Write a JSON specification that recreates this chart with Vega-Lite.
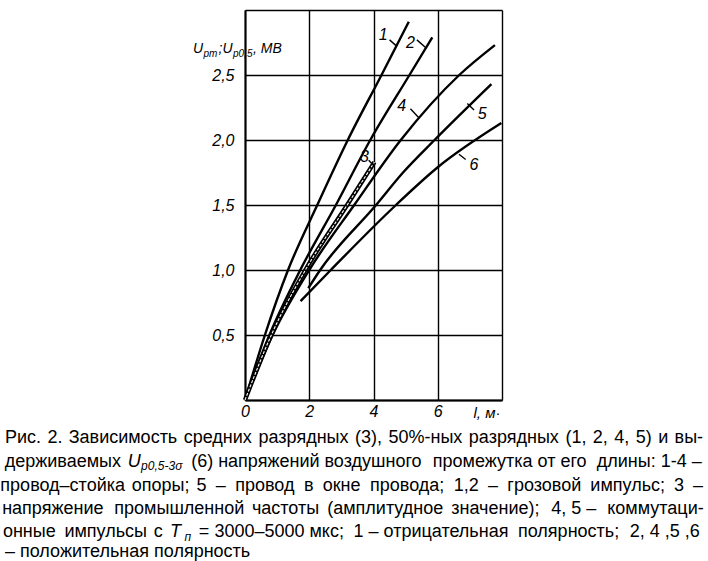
{
  "$schema": "https://vega.github.io/schema/vega-lite/v6.json",
  "width": 257,
  "height": 390,
  "autosize": {"type": "none"},
  "padding": {"left": 245, "top": 10, "right": 206, "bottom": 161},
  "background": "white",
  "config": {"view": {"stroke": null}},
  "datasets": {
    "curves": [
      {"s": "1", "x": 0, "y": 0}, {"s": "1", "x": 0.62, "y": 0.5}, {"s": "1", "x": 1.34, "y": 1.0}, {"s": "1", "x": 2.25, "y": 1.5}, {"s": "1", "x": 3.2, "y": 2.0}, {"s": "1", "x": 4.25, "y": 2.5}, {"s": "1", "x": 5.1, "y": 2.91},
      {"s": "2", "x": 0, "y": 0}, {"s": "2", "x": 0.76, "y": 0.5}, {"s": "2", "x": 1.72, "y": 1.0}, {"s": "2", "x": 2.83, "y": 1.5}, {"s": "2", "x": 3.9, "y": 2.0}, {"s": "2", "x": 5.12, "y": 2.5}, {"s": "2", "x": 5.83, "y": 2.79},
      {"s": "3", "x": 0, "y": 0}, {"s": "3", "x": 0.82, "y": 0.5}, {"s": "3", "x": 1.88, "y": 1.0}, {"s": "3", "x": 3.18, "y": 1.5}, {"s": "3", "x": 4.03, "y": 1.83},
      {"s": "4", "x": 0, "y": 0}, {"s": "4", "x": 0.86, "y": 0.5}, {"s": "4", "x": 2.0, "y": 1.0}, {"s": "4", "x": 3.4, "y": 1.5}, {"s": "4", "x": 4.85, "y": 2.0}, {"s": "4", "x": 6.67, "y": 2.5}, {"s": "4", "x": 7.78, "y": 2.73},
      {"s": "5", "x": 1.97, "y": 0.86}, {"s": "5", "x": 2.34, "y": 1.0}, {"s": "5", "x": 4.08, "y": 1.5}, {"s": "5", "x": 4.92, "y": 1.75}, {"s": "5", "x": 5.9, "y": 2.0}, {"s": "5", "x": 7.67, "y": 2.43},
      {"s": "6", "x": 1.73, "y": 0.76}, {"s": "6", "x": 2.67, "y": 1.0}, {"s": "6", "x": 4.7, "y": 1.5}, {"s": "6", "x": 6.0, "y": 1.79}, {"s": "6", "x": 7.98, "y": 2.13}
    ],
    "labels": [
      {"t": "1", "x": 4.3, "y": 2.81},
      {"t": "2", "x": 5.15, "y": 2.75},
      {"t": "3", "x": 3.72, "y": 1.87},
      {"t": "4", "x": 4.88, "y": 2.26},
      {"t": "5", "x": 7.38, "y": 2.2},
      {"t": "6", "x": 7.13, "y": 1.81}
    ],
    "leaders": [
      {"x": 4.5, "y": 2.77, "x2": 4.73, "y2": 2.72},
      {"x": 5.35, "y": 2.77, "x2": 5.63, "y2": 2.71},
      {"x": 3.85, "y": 1.845, "x2": 4.02, "y2": 1.8},
      {"x": 5.15, "y": 2.24, "x2": 5.42, "y2": 2.17},
      {"x": 6.92, "y": 2.28, "x2": 7.13, "y2": 2.23},
      {"x": 6.66, "y": 1.89, "x2": 6.87, "y2": 1.85}
    ],
    "titleMain": [
      {"t": "U", "x": -1.6187, "y": 2.669},
      {"t": ";U", "x": -0.8249, "y": 2.669},
      {"t": ", МВ", "x": 0.249, "y": 2.669}
    ],
    "titleSub": [
      {"t": "pm", "x": -1.2918, "y": 2.641},
      {"t": "p0,5", "x": -0.3735, "y": 2.641}
    ],
    "capLeft": [
      {"t": "– положительная полярность", "x": -7.4708, "y": -1.2077}
    ],
    "capCenter": [
      {"t": "Рис.", "x": -6.9105, "y": -0.3308},
      {"t": "2.", "x": -5.9156, "y": -0.3308},
      {"t": "Зависимость", "x": -3.7986, "y": -0.3308},
      {"t": "средних", "x": -0.8489, "y": -0.3308},
      {"t": "разрядных", "x": 1.8223, "y": -0.3308},
      {"t": "(3),", "x": 3.8475, "y": -0.3308},
      {"t": "50%-ных", "x": 5.6159, "y": -0.3308},
      {"t": "разрядных", "x": 8.368, "y": -0.3308},
      {"t": "(1,", "x": 10.2998, "y": -0.3308},
      {"t": "2,", "x": 11.0612, "y": -0.3308},
      {"t": "4,", "x": 11.7292, "y": -0.3308},
      {"t": "5)", "x": 12.4128, "y": -0.3308},
      {"t": "и", "x": 13.0186, "y": -0.3308},
      {"t": "вы-", "x": 13.8158, "y": -0.3308},
      {"t": "держиваемых", "x": -5.6685, "y": -0.5154},
      {"t": "(6) напряжений воздушного", "x": 1.9104, "y": -0.5154},
      {"t": "промежутка от его", "x": 8.241, "y": -0.5154},
      {"t": "длины: 1-4 –", "x": 12.5824, "y": -0.5154},
      {"t": "провод–стойка", "x": -5.6749, "y": -0.7},
      {"t": "опоры;", "x": -2.6244, "y": -0.7},
      {"t": "5", "x": -1.3541, "y": -0.7},
      {"t": "–", "x": -0.758, "y": -0.7},
      {"t": "провод", "x": 0.6163, "y": -0.7},
      {"t": "в", "x": 1.9844, "y": -0.7},
      {"t": "окне", "x": 3.007, "y": -0.7},
      {"t": "провода;", "x": 5.0475, "y": -0.7},
      {"t": "1,2", "x": 6.8887, "y": -0.7},
      {"t": "–", "x": 7.7183, "y": -0.7},
      {"t": "грозовой", "x": 9.3167, "y": -0.7},
      {"t": "импульс;", "x": 11.9128, "y": -0.7},
      {"t": "3", "x": 13.5066, "y": -0.7},
      {"t": "–", "x": 14.1027, "y": -0.7},
      {"t": "напряжение", "x": -5.9829, "y": -0.8769},
      {"t": "промышленной", "x": -2.0457, "y": -0.8769},
      {"t": "частоты", "x": 1.2623, "y": -0.8769},
      {"t": "(амплитудное", "x": 4.3651, "y": -0.8769},
      {"t": "значение);", "x": 7.793, "y": -0.8769},
      {"t": "4, 5 –", "x": 10.2307, "y": -0.8769},
      {"t": "коммутаци-", "x": 12.7767, "y": -0.8769},
      {"t": "онные", "x": -6.7144, "y": -1.0538},
      {"t": "импульсы", "x": -4.3353, "y": -1.0538},
      {"t": "с", "x": -2.697, "y": -1.0538},
      {"t": "= 3000–5000 мкс;", "x": 0.8218, "y": -1.0538},
      {"t": "1 – отрицательная", "x": 5.7896, "y": -1.0538},
      {"t": "полярность;", "x": 10.0731, "y": -1.0538},
      {"t": "2, 4 ,5 ,6", "x": 13.0636, "y": -1.0538}
    ],
    "capItal": [
      {"t": "U", "x": -3.6532, "y": -0.5154},
      {"t": "T", "x": -2.332, "y": -1.0538}
    ],
    "capSub": [
      {"t": "p0,5-3σ", "x": -3.2342, "y": -0.5385},
      {"t": "п", "x": -1.8833, "y": -1.0846}
    ]
  },
  "layer": [
    {
      "data": {"name": "curves"},
      "transform": [{"filter": "datum.s != '3'"}],
      "mark": {"type": "line", "color": "black", "strokeWidth": 2.4, "interpolate": "monotone"},
      "encoding": {
        "x": {
          "field": "x", "type": "quantitative",
          "scale": {"domain": [0, 8], "nice": false, "zero": false},
          "axis": {
            "values": [0, 2, 4, 6, 8],
            "grid": true, "gridColor": "black", "gridWidth": 1.4, "gridOpacity": 1,
            "domainColor": "black", "domainWidth": 2, "ticks": false,
            "labelFlush": false, "labelOverlap": false,
            "labelExpr": "datum.value == 8 ? '' : datum.label",
            "labelFont": "Liberation Sans", "labelFontStyle": "italic", "labelFontSize": 16, "labelColor": "black", "labelPadding": 3,
            "title": "l, м·",
            "titleFont": "Liberation Sans", "titleFontStyle": "italic", "titleFontWeight": "normal", "titleFontSize": 15, "titleColor": "black",
            "titleX": 228, "titleY": 17, "titleAlign": "left", "titleBaseline": "alphabetic", "titleAnchor": null
          }
        },
        "y": {
          "field": "y", "type": "quantitative",
          "scale": {"domain": [0, 3], "nice": false, "zero": false},
          "axis": {
            "values": [0, 0.5, 1, 1.5, 2, 2.5, 3],
            "grid": true, "gridColor": "black", "gridWidth": 1.4, "gridOpacity": 1,
            "domainColor": "black", "domainWidth": 2, "ticks": false,
            "labelFlush": false, "labelOverlap": false,
            "labelExpr": "datum.value == 0 || datum.value == 3 ? '' : replace(format(datum.value, '.1f'), '.', ',')",
            "labelFont": "Liberation Sans", "labelFontStyle": "italic", "labelFontSize": 16, "labelColor": "black", "labelPadding": 11,
            "title": null
          }
        },
        "detail": {"field": "s"}
      }
    },
    {
      "data": {"name": "curves"},
      "transform": [{"filter": "datum.s == '3'"}],
      "mark": {"type": "line", "color": "black", "strokeWidth": 4.4, "interpolate": "monotone"},
      "encoding": {
        "x": {"field": "x", "type": "quantitative"},
        "y": {"field": "y", "type": "quantitative"}
      }
    },
    {
      "data": {"name": "curves"},
      "transform": [{"filter": "datum.s == '3'"}],
      "mark": {"type": "line", "color": "white", "strokeWidth": 1.1, "strokeDash": [3, 1.5], "interpolate": "monotone"},
      "encoding": {
        "x": {"field": "x", "type": "quantitative"},
        "y": {"field": "y", "type": "quantitative"}
      }
    },
    {
      "data": {"name": "leaders"},
      "mark": {"type": "rule", "color": "black", "strokeWidth": 1.4},
      "encoding": {
        "x": {"field": "x", "type": "quantitative"},
        "y": {"field": "y", "type": "quantitative"},
        "x2": {"field": "x2"},
        "y2": {"field": "y2"}
      }
    },
    {
      "data": {"name": "labels"},
      "mark": {"type": "text", "font": "Liberation Sans", "fontStyle": "italic", "fontSize": 16, "color": "black", "align": "center", "baseline": "middle"},
      "encoding": {
        "x": {"field": "x", "type": "quantitative"},
        "y": {"field": "y", "type": "quantitative"},
        "text": {"field": "t"}
      }
    },
    {
      "data": {"name": "titleMain"},
      "mark": {"type": "text", "font": "Liberation Sans", "fontStyle": "italic", "fontSize": 14, "color": "black", "align": "left", "baseline": "alphabetic"},
      "encoding": {
        "x": {"field": "x", "type": "quantitative"},
        "y": {"field": "y", "type": "quantitative"},
        "text": {"field": "t"}
      }
    },
    {
      "data": {"name": "titleSub"},
      "mark": {"type": "text", "font": "Liberation Sans", "fontStyle": "italic", "fontSize": 10, "color": "black", "align": "left", "baseline": "alphabetic"},
      "encoding": {
        "x": {"field": "x", "type": "quantitative"},
        "y": {"field": "y", "type": "quantitative"},
        "text": {"field": "t"}
      }
    },
    {
      "data": {"name": "capLeft"},
      "mark": {"type": "text", "font": "Liberation Sans", "fontSize": 18, "color": "black", "align": "left", "baseline": "alphabetic"},
      "encoding": {
        "x": {"field": "x", "type": "quantitative"},
        "y": {"field": "y", "type": "quantitative"},
        "text": {"field": "t"}
      }
    },
    {
      "data": {"name": "capCenter"},
      "mark": {"type": "text", "font": "Liberation Sans", "fontSize": 18, "color": "black", "align": "center", "baseline": "alphabetic"},
      "encoding": {
        "x": {"field": "x", "type": "quantitative"},
        "y": {"field": "y", "type": "quantitative"},
        "text": {"field": "t"}
      }
    },
    {
      "data": {"name": "capItal"},
      "mark": {"type": "text", "font": "Liberation Sans", "fontStyle": "italic", "fontSize": 18, "color": "black", "align": "left", "baseline": "alphabetic"},
      "encoding": {
        "x": {"field": "x", "type": "quantitative"},
        "y": {"field": "y", "type": "quantitative"},
        "text": {"field": "t"}
      }
    },
    {
      "data": {"name": "capSub"},
      "mark": {"type": "text", "font": "Liberation Sans", "fontStyle": "italic", "fontSize": 12, "color": "black", "align": "left", "baseline": "alphabetic"},
      "encoding": {
        "x": {"field": "x", "type": "quantitative"},
        "y": {"field": "y", "type": "quantitative"},
        "text": {"field": "t"}
      }
    }
  ]
}
